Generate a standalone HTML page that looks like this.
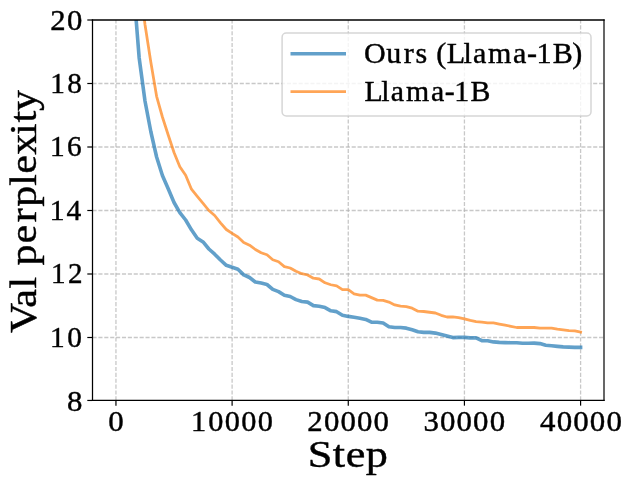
<!DOCTYPE html>
<html><head><meta charset="utf-8"><title>Val perplexity</title>
<style>
html,body{margin:0;padding:0;background:#fff;}
body{width:632px;height:485px;overflow:hidden;}
svg{display:block;will-change:transform;}
text{font-family:"Liberation Serif",serif;fill:#000;stroke:#000;stroke-width:0.42px;}
</style></head><body>
<svg width="632" height="485" viewBox="0 0 632 485">
<rect x="0" y="0" width="632" height="485" fill="#fff"/>
<defs><clipPath id="ax"><rect x="92.50" y="20.00" width="511.50" height="380.45"/></clipPath></defs>

<g stroke="#b0b0b0" stroke-opacity="0.7" stroke-width="1.3" stroke-dasharray="4.1,1.79" fill="none">
<line x1="115.95" y1="400.45" x2="115.95" y2="20.00"/>
<line x1="232.11" y1="400.45" x2="232.11" y2="20.00"/>
<line x1="348.27" y1="400.45" x2="348.27" y2="20.00"/>
<line x1="464.43" y1="400.45" x2="464.43" y2="20.00"/>
<line x1="580.59" y1="400.45" x2="580.59" y2="20.00"/>
<line x1="92.50" y1="337.50" x2="604.00" y2="337.50"/>
<line x1="92.50" y1="274.00" x2="604.00" y2="274.00"/>
<line x1="92.50" y1="210.50" x2="604.00" y2="210.50"/>
<line x1="92.50" y1="147.00" x2="604.00" y2="147.00"/>
<line x1="92.50" y1="83.50" x2="604.00" y2="83.50"/>
</g>
<g clip-path="url(#ax)" fill="none" stroke-linejoin="round" stroke-linecap="square">
<path d="M133.37,-15.00 L139.18,58.00 L144.99,101.00 L150.80,131.50 L156.61,157.00 L162.41,175.50 L168.22,188.70 L174.03,202.50 L179.84,212.60 L185.65,220.00 L191.45,229.80 L197.26,238.20 L203.07,241.90 L208.88,249.00 L214.69,254.20 L220.49,260.00 L226.30,265.30 L232.11,267.20 L237.92,269.20 L243.73,274.90 L249.53,277.50 L255.34,282.00 L261.15,283.10 L266.96,284.50 L272.77,289.40 L278.57,291.60 L284.38,295.20 L290.19,296.50 L296.00,299.60 L301.81,301.50 L307.61,302.10 L313.42,305.60 L319.23,306.20 L325.04,307.60 L330.85,310.80 L336.65,311.65 L342.46,315.30 L348.27,316.40 L354.08,317.30 L359.89,318.25 L365.69,319.40 L371.50,322.20 L377.31,322.20 L383.12,323.00 L388.93,326.80 L394.73,327.50 L400.54,327.50 L406.35,328.15 L412.16,329.80 L417.97,331.80 L423.77,332.40 L429.58,332.40 L435.39,333.10 L441.20,334.50 L447.01,336.10 L452.81,337.60 L458.62,337.40 L464.43,337.40 L470.24,337.90 L476.05,337.90 L481.85,340.70 L487.66,340.70 L493.47,341.90 L499.28,342.40 L505.09,342.60 L510.89,342.70 L516.70,342.70 L522.51,343.30 L528.32,343.30 L534.13,343.10 L539.93,343.60 L545.74,345.30 L551.55,345.80 L557.36,346.40 L563.17,346.90 L568.97,347.10 L574.78,347.40 L580.59,347.40" stroke="#1f77b4" stroke-opacity="0.7" stroke-width="3.6"/>
<path d="M133.37,-75.00 L139.18,-22.00 L144.99,24.50 L150.80,62.00 L156.61,96.30 L162.41,117.00 L168.22,135.00 L174.03,152.50 L179.84,166.80 L185.65,175.20 L191.45,189.20 L197.26,196.30 L203.07,203.30 L208.88,210.50 L214.69,215.50 L220.49,222.90 L226.30,229.50 L232.11,233.30 L237.92,237.00 L243.73,242.40 L249.53,245.20 L255.34,249.50 L261.15,252.80 L266.96,254.80 L272.77,259.70 L278.57,261.70 L284.38,266.60 L290.19,268.00 L296.00,271.30 L301.81,273.70 L307.61,275.00 L313.42,278.20 L319.23,279.00 L325.04,282.80 L330.85,284.75 L336.65,285.90 L342.46,289.70 L348.27,289.70 L354.08,293.80 L359.89,295.10 L365.69,295.10 L371.50,297.60 L377.31,300.10 L383.12,300.40 L388.93,302.10 L394.73,304.90 L400.54,306.20 L406.35,306.70 L412.16,308.20 L417.97,311.20 L423.77,311.50 L429.58,312.25 L435.39,313.00 L441.20,315.30 L447.01,317.00 L452.81,316.80 L458.62,317.60 L464.43,318.80 L470.24,320.40 L476.05,321.60 L481.85,322.20 L487.66,322.90 L493.47,322.90 L499.28,324.10 L505.09,325.20 L510.89,326.35 L516.70,327.50 L522.51,327.50 L528.32,327.30 L534.13,327.50 L539.93,328.10 L545.74,328.10 L551.55,328.10 L557.36,329.10 L563.17,329.80 L568.97,330.60 L574.78,330.90 L580.59,332.10" stroke="#ff7f0e" stroke-opacity="0.7" stroke-width="2.78"/>
</g>
<g stroke="#000" stroke-linecap="square" fill="none">
<line x1="92.50" y1="20.00" x2="92.50" y2="400.45" stroke-width="1.25"/>
<line x1="92.50" y1="400.45" x2="604.00" y2="400.45" stroke-width="1.3"/>
<line x1="92.50" y1="20.00" x2="604.00" y2="20.00" stroke-width="1.38"/>
<line x1="604.00" y1="20.00" x2="604.00" y2="400.45" stroke-width="1.2"/>
</g>
<g stroke="#000" stroke-width="1.2">
<line x1="115.95" y1="400.45" x2="115.95" y2="405.65"/>
<line x1="232.11" y1="400.45" x2="232.11" y2="405.65"/>
<line x1="348.27" y1="400.45" x2="348.27" y2="405.65"/>
<line x1="464.43" y1="400.45" x2="464.43" y2="405.65"/>
<line x1="580.59" y1="400.45" x2="580.59" y2="405.65"/>
<line x1="92.50" y1="400.45" x2="87.30" y2="400.45"/>
<line x1="92.50" y1="337.50" x2="87.30" y2="337.50"/>
<line x1="92.50" y1="274.00" x2="87.30" y2="274.00"/>
<line x1="92.50" y1="210.50" x2="87.30" y2="210.50"/>
<line x1="92.50" y1="147.00" x2="87.30" y2="147.00"/>
<line x1="92.50" y1="83.50" x2="87.30" y2="83.50"/>
<line x1="92.50" y1="20.00" x2="87.30" y2="20.00"/>
</g>
<g>
<text transform="translate(107.69,431.00) scale(1.0586,1)" x="0.51" y="0" font-size="29.2">0</text>
<text transform="translate(190.93,431.00) scale(1.0384,1)" x="0.01 16.59 32.52 48.45 64.38" y="0" font-size="29.2">10000</text>
<text transform="translate(306.90,431.00) scale(1.0559,1)" x="0.32 16.19 31.86 47.52 63.19" y="0" font-size="29.2">20000</text>
<text transform="translate(422.95,431.00) scale(1.0564,1)" x="0.43 16.18 31.84 47.50 63.16" y="0" font-size="29.2">30000</text>
<text transform="translate(539.70,431.00) scale(1.0597,1)" x="0.21 16.11 31.72 47.33 62.94" y="0" font-size="29.2">40000</text>
<text transform="translate(66.41,410.50) scale(1.0545,1)" x="0.54" y="0" font-size="29.2">8</text>
<text transform="translate(49.84,346.70) scale(1.0053,1)" x="0.26 17.38" y="0" font-size="29.2">10</text>
<text transform="translate(50.67,283.10) scale(0.9961,1)" x="0.34 17.38" y="0" font-size="29.2">12</text>
<text transform="translate(49.42,219.50) scale(1.0107,1)" x="0.22 16.94" y="0" font-size="29.2">14</text>
<text transform="translate(49.75,156.10) scale(1.0037,1)" x="0.28 17.28" y="0" font-size="29.2">16</text>
<text transform="translate(49.87,93.20) scale(1.0030,1)" x="0.28 17.43" y="0" font-size="29.2">18</text>
<text transform="translate(49.84,29.80) scale(1.0517,1)" x="0.35 16.29" y="0" font-size="29.2">20</text>
</g>
<text transform="translate(308.37,467.40) scale(1.1644,1)" x="-0.44 20.98 32.10 49.33" y="0" font-size="38.0">Step</text>
<text transform="translate(36.40,330.24) rotate(-90) scale(1.1042,1)" x="-2.41 20.38 37.85 48.32 58.57 78.62 97.81 111.78 130.82 141.78 158.85 176.92 188.24 198.56" y="0" font-size="38.0">Val perplexity</text>
<rect x="282.1" y="33.0" width="308.9" height="82.9" rx="4.2" ry="4.2" fill="#fff" fill-opacity="0.8" stroke="#ccc" stroke-opacity="0.8" stroke-width="1.5"/>
<line x1="290.5" y1="53.75" x2="346.0" y2="53.75" stroke="#1f77b4" stroke-opacity="0.7" stroke-width="3.6"/>
<line x1="290.5" y1="91.6" x2="346.0" y2="91.6" stroke="#ff7f0e" stroke-opacity="0.7" stroke-width="2.78"/>
<text transform="translate(364.10,63.40) scale(1.0396,1)" x="-0.18 21.26 38.07 49.35 61.76 69.35 79.43 95.69 104.71 119.28 143.34 156.65 165.78 181.38 200.12" y="0" font-size="28.9">Ours (Llama-1B)</text>
<text transform="translate(364.10,100.90) scale(1.0325,1)" x="0.38 16.72 25.83 40.52 64.72 78.11 87.32 103.04" y="0" font-size="28.9">Llama-1B</text>
</svg></body></html>
